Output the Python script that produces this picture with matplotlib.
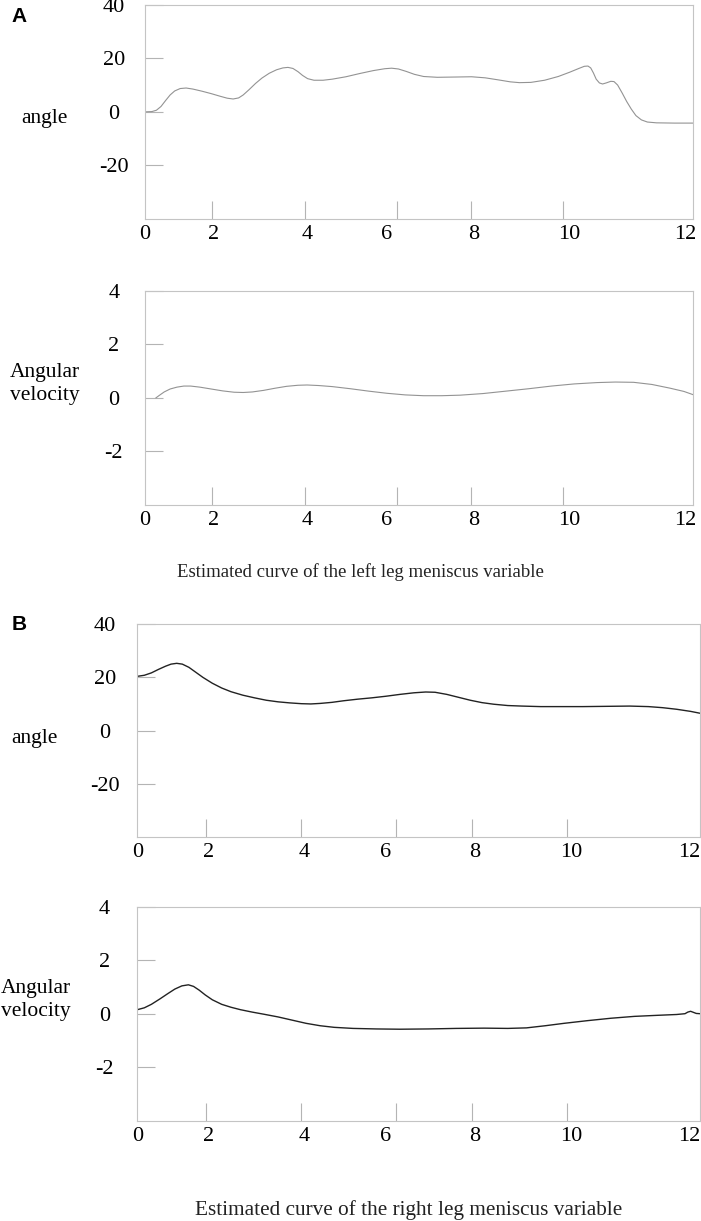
import matplotlib.pyplot as plt

# x values are horizontal positions on the 0-12 axis (the printed axis is uneven)
tick_pos = [1.47, 3.50, 5.52, 7.14, 9.16]
label_pos_a = [0, 1.51, 3.55, 5.30, 7.20, 9.30, 11.84]
label_pos_b = [0, 1.51, 3.55, 5.30, 7.20, 9.25, 11.76]
x_labels = ['0', '2', '4', '6', '8', '10', '12']

# left leg angle
a_ang_x = [0.00, 0.15, 0.25, 0.35, 0.45, 0.55, 0.65, 0.77, 0.90, 1.05, 1.25, 1.45,
           1.65, 1.80, 1.93, 2.05, 2.15, 2.28, 2.42, 2.56, 2.72, 2.88, 3.02, 3.13,
           3.24, 3.35, 3.45, 3.56, 3.70, 3.90, 4.10, 4.40, 4.70, 5.00, 5.25, 5.40,
           5.55, 5.72, 5.90, 6.10, 6.40, 6.80, 7.15, 7.45, 7.75, 8.00, 8.20, 8.45,
           8.75, 9.05, 9.30, 9.50, 9.62, 9.70, 9.76, 9.82, 9.88, 9.95, 10.02, 10.10,
           10.20, 10.27, 10.35, 10.45, 10.55, 10.65, 10.75, 10.87, 11.00, 11.20, 11.60, 12.00]
a_ang_y = [0.0, 0.1, 0.6, 2.0, 4.2, 6.3, 7.8, 8.7, 8.9, 8.5, 7.7, 6.8,
           5.8, 5.1, 4.8, 5.2, 6.3, 8.3, 10.6, 12.6, 14.4, 15.7, 16.4, 16.6,
           16.2, 15.0, 13.6, 12.4, 11.8, 11.8, 12.2, 13.1, 14.3, 15.4, 16.1, 16.3,
           16.0, 15.1, 14.0, 13.2, 12.9, 13.0, 13.1, 12.7, 11.9, 11.2, 10.9, 11.0,
           11.8, 13.2, 14.8, 16.2, 17.0, 17.1, 16.4, 14.5, 12.2, 10.8, 10.4, 10.8,
           11.4, 11.3, 10.0, 7.0, 3.8, 1.0, -1.4, -3.0, -3.8, -4.1, -4.2, -4.2]

# left leg angular velocity
a_vel_x = [0.24, 0.32, 0.42, 0.55, 0.70, 0.85, 1.00, 1.20, 1.45, 1.70, 1.95, 2.15,
           2.35, 2.60, 2.85, 3.10, 3.35, 3.55, 3.80, 4.10, 4.50, 4.90, 5.30, 5.70,
           6.10, 6.50, 6.90, 7.40, 7.90, 8.40, 8.90, 9.40, 9.90, 10.30, 10.70, 11.10,
           11.50, 11.80, 12.00]
a_vel_y = [0.0, 0.1, 0.22, 0.33, 0.40, 0.44, 0.44, 0.40, 0.33, 0.26, 0.21, 0.20,
           0.22, 0.28, 0.36, 0.43, 0.47, 0.48, 0.46, 0.42, 0.34, 0.25, 0.17, 0.11,
           0.08, 0.08, 0.10, 0.16, 0.25, 0.34, 0.44, 0.52, 0.57, 0.59, 0.58, 0.50,
           0.36, 0.24, 0.12]

# right leg angle
b_ang_x = [0.00, 0.15, 0.30, 0.45, 0.60, 0.72, 0.84, 0.96, 1.10, 1.25, 1.40, 1.60,
           1.80, 2.00, 2.25, 2.50, 2.75, 3.00, 3.25, 3.50, 3.70, 3.90, 4.15, 4.40,
           4.70, 5.00, 5.30, 5.60, 5.90, 6.15, 6.35, 6.60, 6.85, 7.10, 7.35, 7.60,
           7.90, 8.20, 8.60, 9.00, 9.50, 10.00, 10.50, 10.90, 11.20, 11.50, 11.80, 12.00]
b_ang_y = [20.4, 20.8, 21.7, 23.0, 24.2, 25.0, 25.3, 25.0, 23.8, 21.9, 20.0, 17.8,
           16.0, 14.6, 13.3, 12.3, 11.4, 10.8, 10.4, 10.1, 10.0, 10.2, 10.6, 11.2,
           11.8, 12.3, 12.9, 13.6, 14.2, 14.5, 14.4, 13.6, 12.5, 11.4, 10.5, 9.9,
           9.4, 9.2, 9.0, 9.0, 9.0, 9.1, 9.2, 9.0, 8.6, 8.0, 7.2, 6.5]

# right leg angular velocity
b_vel_x = [0.00, 0.15, 0.30, 0.48, 0.65, 0.80, 0.95, 1.09, 1.20, 1.32, 1.45, 1.60,
           1.80, 2.00, 2.20, 2.45, 2.70, 3.00, 3.30, 3.60, 3.90, 4.20, 4.60, 5.10,
           5.60, 6.20, 6.80, 7.40, 7.90, 8.30, 8.70, 9.10, 9.60, 10.10, 10.60, 11.10,
           11.50, 11.68, 11.74, 11.80, 11.86, 11.92, 12.00]
b_vel_y = [0.15, 0.22, 0.35, 0.55, 0.75, 0.92, 1.04, 1.08, 1.02, 0.88, 0.70, 0.52,
           0.35, 0.24, 0.15, 0.06, -0.02, -0.12, -0.24, -0.36, -0.45, -0.51, -0.55, -0.57,
           -0.58, -0.57, -0.55, -0.54, -0.55, -0.53, -0.45, -0.36, -0.26, -0.17, -0.10, -0.06,
           -0.03, 0.0, 0.06, 0.09, 0.05, 0.01, 0.0]

W, H = 701, 1221
serif = 'Liberation Serif'
fig = plt.figure(figsize=(W / 100, H / 100), dpi=100)


def make_ax(left, right, top, bottom, x, y, color, lw, ylim, yticks, label_pos,
            ylabel, label_x, label_y, ypad):
    ax = fig.add_axes([left / W, 1 - bottom / H, (right - left) / W, (bottom - top) / H])
    ax.plot(x, y, color=color, lw=lw, solid_joinstyle='round')
    ax.set_xlim(0, 12)
    ax.set_ylim(*ylim)
    for s in ax.spines.values():
        s.set_color('#c4c4c4')
        s.set_linewidth(0.8)
    ax.set_xticks(tick_pos)
    ax.set_xticklabels([])
    ax.set_xticks(label_pos, minor=True)
    ax.set_xticklabels(x_labels, minor=True, fontsize=16, family=serif)
    ax.tick_params(axis='x', which='major', direction='in', length=13, width=0.8, color='#b4b4b4')
    ax.tick_params(axis='x', which='minor', length=0, pad=4.5)
    ax.set_yticks(yticks)
    ax.set_yticklabels([str(t) for t in yticks], fontsize=16, family=serif, ha='center')
    ax.tick_params(axis='y', direction='in', length=13, width=0.8, color='#b4b4b4', pad=ypad)
    fig.text(label_x / W, 1 - label_y / H, ylabel, fontsize=15.5, family=serif,
             ha='center', va='center', multialignment='center', linespacing=1.25)
    return ax


grey = '#939393'
dark = '#222222'
make_ax(145, 693, 4.7, 219, a_ang_x, a_ang_y, grey, 0.8, (-40, 40), [40, 20, 0, -20],
        label_pos_a, 'angle', 44.5, 119, 22.5)
make_ax(145, 693, 290.7, 505, a_vel_x, a_vel_y, grey, 0.8, (-4, 4), [4, 2, 0, -2],
        label_pos_a, 'Angular\nvelocity', 45, 384, 22.5)
make_ax(137.3, 700, 624.3, 836.7, b_ang_x, b_ang_y, dark, 1.0, (-40, 40), [40, 20, 0, -20],
        label_pos_b, 'angle', 34.5, 738, 23.5)
make_ax(137.3, 700, 906.7, 1120.7, b_vel_x, b_vel_y, dark, 1.0, (-4, 4), [4, 2, 0, -2],
        label_pos_b, 'Angular\nvelocity', 36, 1000, 23.5)

fig.text(19.5 / W, 1 - 16 / H, 'A', fontsize=15, fontweight='bold', family='Liberation Sans',
         ha='center', va='center')
fig.text(19.5 / W, 1 - 625 / H, 'B', fontsize=15, fontweight='bold', family='Liberation Sans',
         ha='center', va='center')
fig.text(360 / W, 1 - 572 / H, 'Estimated curve of the left leg meniscus variable',
         fontsize=13.5, family=serif, ha='center', va='center', color='#222222')
fig.text(409 / W, 1 - 1210 / H, 'Estimated curve of the right leg meniscus variable',
         fontsize=15.3, family=serif, ha='center', va='center', color='#222222')

fig.savefig('out.png', dpi=100)
